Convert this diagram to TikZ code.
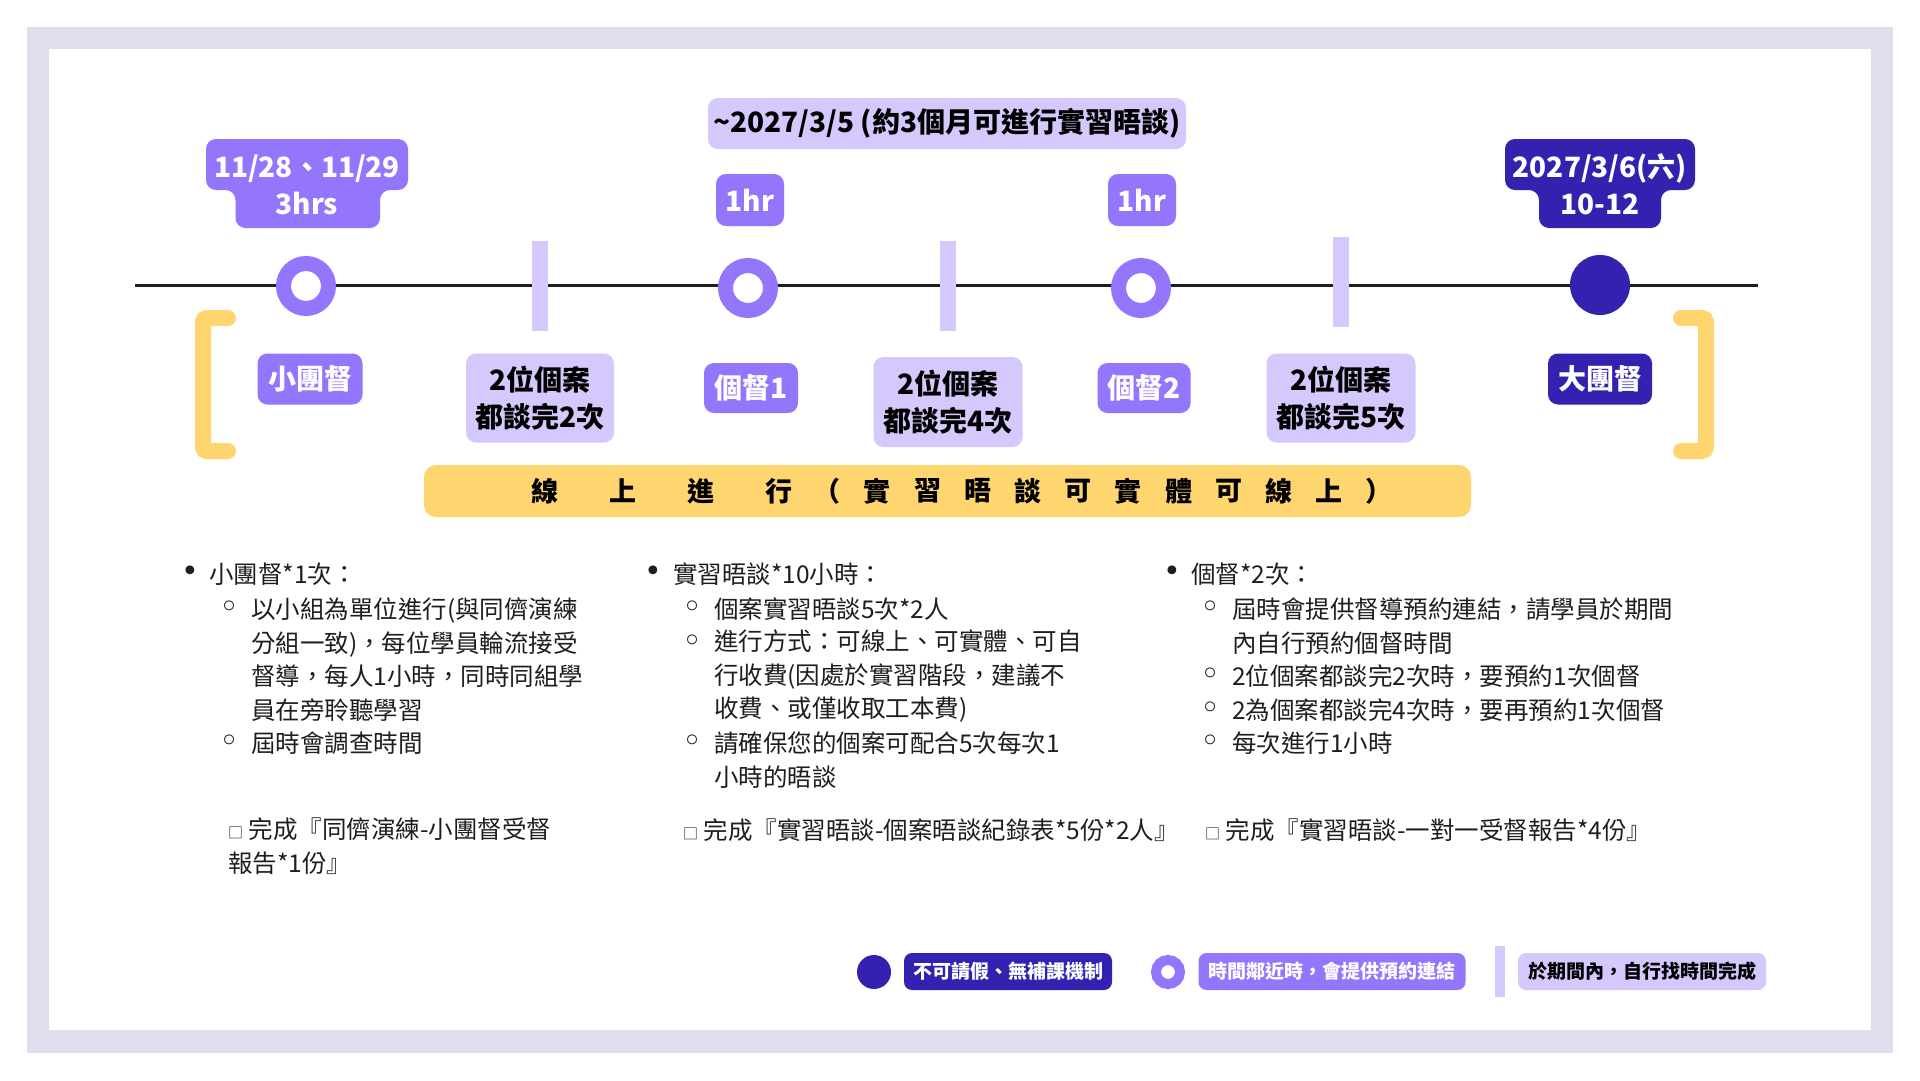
\documentclass[tikz,border=0pt]{standalone}
\usepackage{fontspec}
\setmainfont{Noto Sans CJK TC}
\newfontfamily\symfont{DejaVu Sans}
\definecolor{frame}{HTML}{E1DCEE}
\definecolor{lilac}{HTML}{D5C8FD}
\definecolor{violet}{HTML}{9376FC}
\definecolor{navy}{HTML}{3222AF}
\definecolor{amber}{HTML}{FFD56F}
\definecolor{ink}{HTML}{1E1E1E}

\begin{document}
\begin{tikzpicture}[x=1pt,y=-1pt,every node/.style={inner sep=0pt},
  tagbox/.style={rounded corners=10pt,align=center,font=\bfseries\fontsize{28}{37}\selectfont},
  openmark/.style={circle,draw=violet,fill=white,line width=15pt,minimum size=45pt},
  fullmark/.style={circle,fill=navy,minimum size=60pt},
  slotbar/.style={fill=lilac,minimum width=16pt,minimum height=90pt},
  bracketline/.style={draw=amber,line width=16pt,line cap=round,rounded corners=4pt},
  bandchar/.style={font=\bfseries\fontsize{27}{27}\selectfont},
  bodytext/.style={anchor=west,align=left,text=ink,font=\fontsize{24.5}{33.7}\selectfont},
  bulletmark/.style={font=\symfont\fontsize{30}{30}\selectfont,text=ink},
  submark/.style={font=\symfont\fontsize{34}{34}\selectfont,text=ink},
  keybox/.style={rounded corners=8pt,minimum height=37pt,font=\bfseries\fontsize{19}{19}\selectfont}]
\fill[white] (0,0) rectangle (1920,1080);
\fill[frame] (27,27) rectangle (1893,1053);
\fill[white] (49,49) rectangle (1871,1030);
\useasboundingbox (0,0) rectangle (1920,1080);

\node[tagbox,fill=lilac,minimum width=478pt,minimum height=51pt] (span) at (947,123.5) {\textasciitilde 2027/3/5 (約3個月可進行實習晤談)};
\fill[violet,rounded corners=10pt] (206,139) -- (408,139) -- (408,190) -- (380,190) -- (380,228) -- (235.5,228) -- (235.5,190) -- (206,190) -- cycle;
\node[tagbox,text=white] (small) at (307,184.5) {11/28、11/29\\3hrs};
\fill[navy,rounded corners=10pt] (1505,139) -- (1695,139) -- (1695,190) -- (1661,190) -- (1661,228) -- (1539,228) -- (1539,190) -- (1505,190) -- cycle;
\node[tagbox,text=white] (grand) at (1600,184.5) {2027/3/6(六)\\10-12};
\node[tagbox,fill=violet,text=white,minimum width=68pt,minimum height=52pt] (hr1) at (750,200) {1hr};
\node[tagbox,fill=violet,text=white,minimum width=68pt,minimum height=52pt] (hr2) at (1142,200) {1hr};

\coordinate (start) at (135,285);
\coordinate (end) at (1758,285);
\draw[ink,line width=3pt] (start) -- (end);
\node[slotbar] (s1) at (540,286) {};
\node[slotbar] (s2) at (948,286) {};
\node[slotbar] (s3) at (1341,282) {};
\node[openmark] (m1) at (306,286) {};
\node[openmark] (m2) at (748,288) {};
\node[openmark] (m3) at (1141,288) {};
\node[fullmark] (m4) at (1600,285) {};

\node[tagbox,fill=violet,text=white,minimum width=105pt,minimum height=51pt] (l1) at (310,379) {小團督};
\node[tagbox,fill=lilac,minimum width=148pt,minimum height=89pt] (l2) at (540,398) {2位個案\\都談完2次};
\node[tagbox,fill=violet,text=white,minimum width=94pt,minimum height=50pt] (l3) at (751,388) {個督1};
\node[tagbox,fill=lilac,minimum width=149pt,minimum height=90pt] (l4) at (948,402) {2位個案\\都談完4次};
\node[tagbox,fill=violet,text=white,minimum width=93pt,minimum height=50pt] (l5) at (1144,388) {個督2};
\node[tagbox,fill=lilac,minimum width=149pt,minimum height=89pt] (l6) at (1341,398) {2位個案\\都談完5次};
\node[tagbox,fill=navy,text=white,minimum width=104pt,minimum height=51pt] (l7) at (1600,379) {大團督};

\draw[bracketline] (228,318) -- (203,318) -- (203,451) -- (228,451);
\draw[bracketline] (1681,318) -- (1706,318) -- (1706,451) -- (1681,451);

\node[fill=amber,rounded corners=12pt,minimum width=1047pt,minimum height=52pt] (band) at (947.5,491) {};
\foreach \c [count=\i] in {線,上,進,行}
  \node[bandchar] (w\i) at (467+78*\i,491) {\c};
\foreach \c [count=\i] in {（,實,習,晤,談,可,實,體,可,線,上,）}
  \node[bandchar] (p\i) at (777+50.2*\i,491) {\c};

\node[bulletmark] (b1) at (190,574) {•};
\node[bodytext] (h1) at (209,574) {小團督*1次：};
\node[submark] (c11) at (230,610) {◦};
\node[bodytext] (t11) at (251,659.5) {以小組為單位進行(與同儕演練\\分組一致)，每位學員輪流接受\\督導，每人1小時，同時同組學\\員在旁聆聽學習};
\node[submark] (c12) at (230,744) {◦};
\node[bodytext] (t12) at (251,743) {屆時會調查時間};
\node[bodytext] (n1) at (228,846) {{\fontsize{15}{15}\selectfont □} 完成『同儕演練-小團督受督\\報告*1份』};

\node[bulletmark] (b2) at (653,574) {•};
\node[bodytext] (h2) at (673,574) {實習晤談*10小時：};
\node[submark] (c21) at (693,610) {◦};
\node[bodytext] (t21) at (714,609) {個案實習晤談5次*2人};
\node[submark] (c22) at (693,644) {◦};
\node[bodytext] (t22) at (714,676) {進行方式：可線上、可實體、可自\\行收費(因處於實習階段，建議不\\收費、或僅收取工本費)};
\node[submark] (c23) at (693,744) {◦};
\node[bodytext] (t23) at (714,760) {請確保您的個案可配合5次每次1\\小時的晤談};
\node[bodytext] (n2) at (683,830) {{\fontsize{15}{15}\selectfont □} 完成『實習晤談-個案晤談紀錄表*5份*2人』};

\node[bulletmark] (b3) at (1172,574) {•};
\node[bodytext] (h3) at (1191,574) {個督*2次：};
\node[submark] (c31) at (1211,610) {◦};
\node[bodytext] (t31) at (1232,626) {屆時會提供督導預約連結，請學員於期間\\內自行預約個督時間};
\node[submark] (c32) at (1211,677) {◦};
\node[bodytext] (t32) at (1232,676) {2位個案都談完2次時，要預約1次個督};
\node[submark] (c33) at (1211,711) {◦};
\node[bodytext] (t33) at (1232,710) {2為個案都談完4次時，要再預約1次個督};
\node[submark] (c34) at (1211,744) {◦};
\node[bodytext] (t34) at (1232,743) {每次進行1小時};
\node[bodytext] (n3) at (1205,830) {{\fontsize{15}{15}\selectfont □} 完成『實習晤談-一對一受督報告*4份』};

\node[fullmark,minimum size=34pt] (k1) at (874,972) {};
\node[keybox,fill=navy,text=white,minimum width=208pt] (kt1) at (1008,971.5) {不可請假、無補課機制};
\node[openmark,line width=10pt,minimum size=24pt] (k2) at (1168,972) {};
\node[keybox,fill=violet,text=white,minimum width=267pt] (kt2) at (1332,971.5) {時間鄰近時，會提供預約連結};
\node[slotbar,minimum width=10pt,minimum height=51pt] (k3) at (1500,971.5) {};
\node[keybox,fill=lilac,minimum width=248pt] (kt3) at (1642,971.5) {於期間內，自行找時間完成};
\end{tikzpicture}
\end{document}
